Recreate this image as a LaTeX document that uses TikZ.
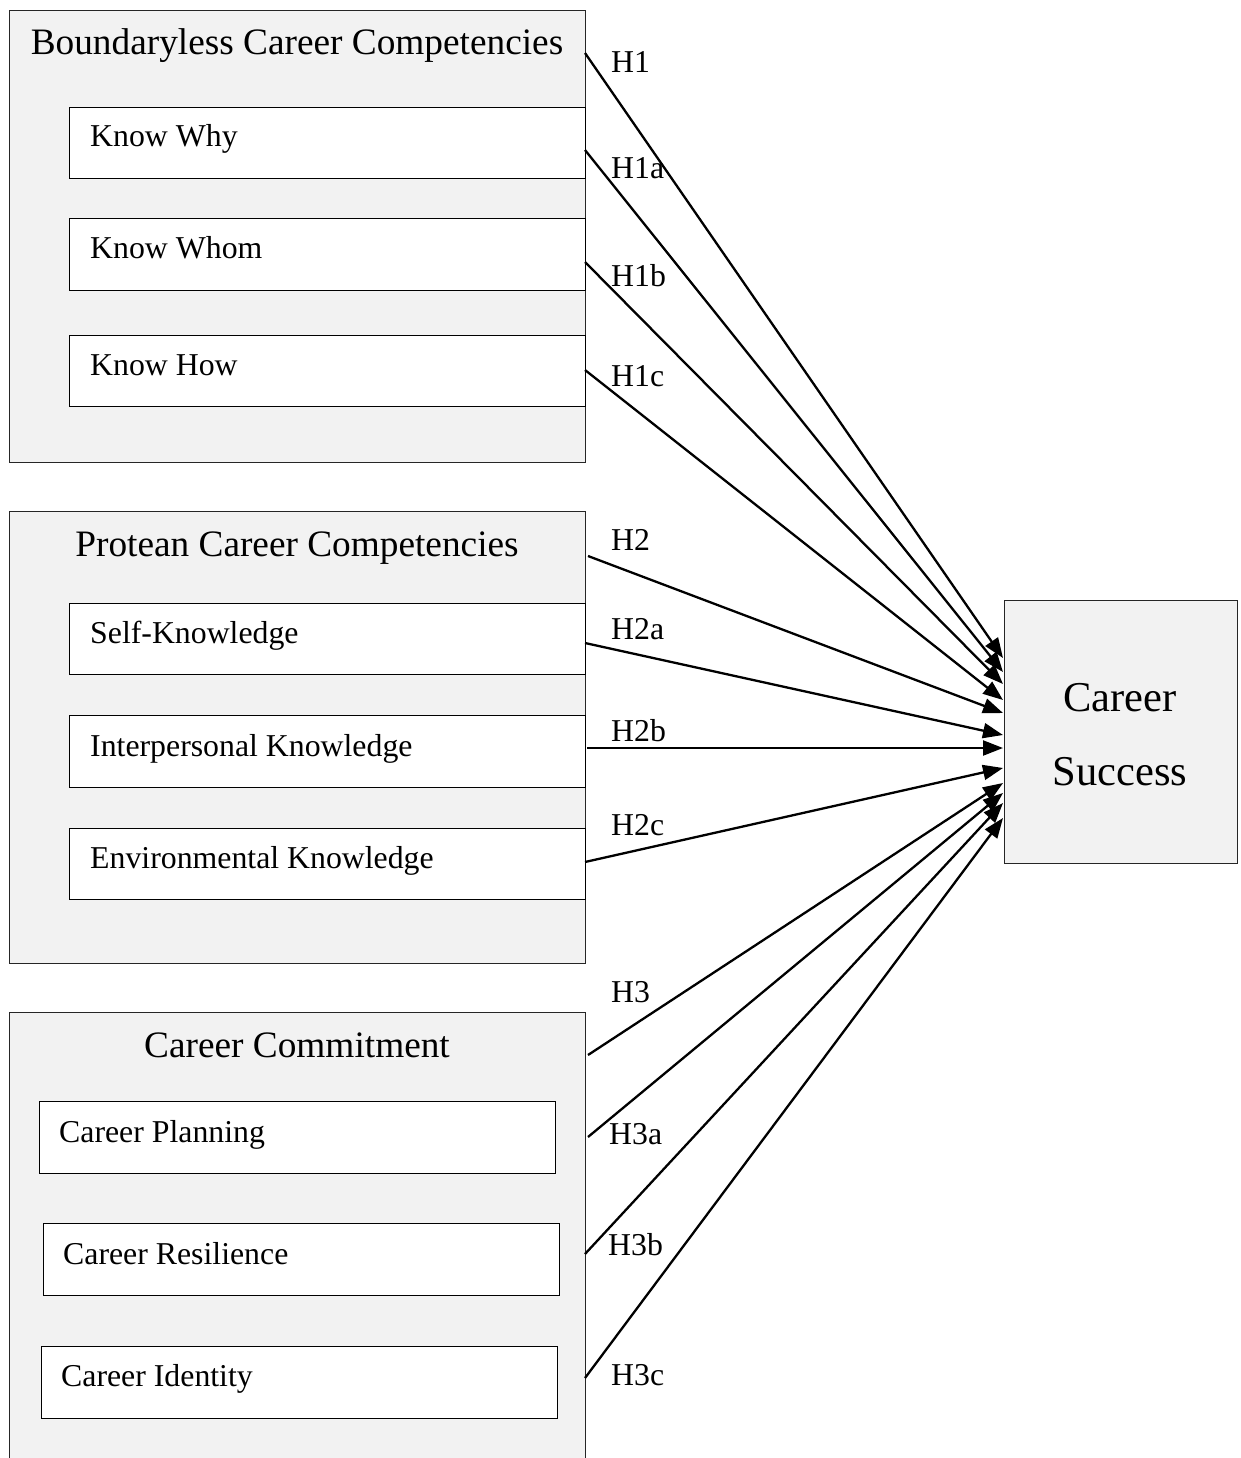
\documentclass[tikz,border=0pt]{standalone}
\usepackage{fontspec}
\setmainfont{Liberation Serif}
\usetikzlibrary{arrows.meta}
\definecolor{panel}{HTML}{F2F2F2}
\begin{document}
\begin{tikzpicture}[x=1pt,y=-1pt,
  group/.style={draw=black!85, line width=1.4pt, fill=panel, inner sep=0pt, anchor=north west},
  item/.style={draw=black, line width=1.4pt, fill=white, inner sep=0pt, anchor=north west},
  grouptitle/.style={font=\fontsize{37.3}{40}\selectfont, inner sep=0pt, anchor=base},
  itemtext/.style={font=\fontsize{31.8}{34}\selectfont, inner sep=0pt, anchor=base west},
  hyp/.style={font=\fontsize{31.8}{34}\selectfont, inner sep=0pt, anchor=west},
  conn/.style={line width=2.3pt, -{Triangle[length=20pt,width=15pt]}}
]
\useasboundingbox (0,0) rectangle (1241,1458);

% Group 1
\node[group, minimum width=576pt, minimum height=452pt] (g1) at (9,10) {};
\node[grouptitle] (g1t) at (297,55) {Boundaryless Career Competencies};
\node[item, minimum width=516pt, minimum height=71pt] (b1) at (69,107) {};
\node[itemtext] (b1t) at (90,147) {Know Why};
\node[item, minimum width=516pt, minimum height=72pt] (b2) at (69,218) {};
\node[itemtext] (b2t) at (90,258) {Know Whom};
\node[item, minimum width=516pt, minimum height=71pt] (b3) at (69,335) {};
\node[itemtext] (b3t) at (90,375) {Know How};

% Group 2
\node[group, minimum width=576pt, minimum height=452pt] (g2) at (9,511) {};
\node[grouptitle] (g2t) at (297,556) {Protean Career Competencies};
\node[item, minimum width=516pt, minimum height=71pt] (p1) at (69,603) {};
\node[itemtext] (p1t) at (90,643) {Self-Knowledge};
\node[item, minimum width=516pt, minimum height=72pt] (p2) at (69,715) {};
\node[itemtext] (p2t) at (90,756) {Interpersonal Knowledge};
\node[item, minimum width=516pt, minimum height=71pt] (p3) at (69,828) {};
\node[itemtext] (p3t) at (90,868) {Environmental Knowledge};

% Group 3
\node[group, minimum width=576pt, minimum height=480pt] (g3) at (9,1012) {};
\node[grouptitle] (g3t) at (297,1057) {Career Commitment};
\node[item, minimum width=516pt, minimum height=72pt] (c1) at (39,1101) {};
\node[itemtext] (c1t) at (59,1142) {Career Planning};
\node[item, minimum width=516pt, minimum height=72pt] (c2) at (43,1223) {};
\node[itemtext] (c2t) at (63,1264) {Career Resilience};
\node[item, minimum width=516pt, minimum height=72pt] (c3) at (41,1346) {};
\node[itemtext] (c3t) at (61,1386) {Career Identity};

% Outcome
\node[group, minimum width=233pt, minimum height=263pt] (cs) at (1004,600) {};
\node[font=\fontsize{42.5}{45}\selectfont, inner sep=0pt, anchor=base] (cs1) at (1120,711) {Career};
\node[font=\fontsize{42.5}{45}\selectfont, inner sep=0pt, anchor=base] (cs2) at (1120,785) {Success};

% Connector ends
\coordinate (s1) at (585,53);   \coordinate (e1) at (1003,658);
\coordinate (s2) at (585,150);  \coordinate (e2) at (1003,672);
\coordinate (s3) at (585,262);  \coordinate (e3) at (1003,684);
\coordinate (s4) at (585,370);  \coordinate (e4) at (1003,700);
\coordinate (s5) at (588,556);  \coordinate (e5) at (1003,713);
\coordinate (s6) at (585,643);  \coordinate (e6) at (1003,735);
\coordinate (s7) at (587,748);  \coordinate (e7) at (1003,748);
\coordinate (s8) at (585,862);  \coordinate (e8) at (1003,768);
\coordinate (s9) at (588,1055); \coordinate (e9) at (1003,783);
\coordinate (s10) at (588,1137); \coordinate (e10) at (1003,793);
\coordinate (s11) at (585,1254); \coordinate (e11) at (1003,803);
\coordinate (s12) at (585,1378); \coordinate (e12) at (1003,818);

\foreach \i in {1,...,12} { \draw[conn] (s\i) -- (e\i); }

% Hypothesis labels
\node[hyp] (h1) at (611,62) {H1};
\node[hyp] (h1a) at (611,168) {H1a};
\node[hyp] (h1b) at (611,276) {H1b};
\node[hyp] (h1c) at (611,376) {H1c};
\node[hyp] (h2) at (611,540) {H2};
\node[hyp] (h2a) at (611,629) {H2a};
\node[hyp] (h2b) at (611,731) {H2b};
\node[hyp] (h2c) at (611,825) {H2c};
\node[hyp] (h3) at (611,992) {H3};
\node[hyp] (h3a) at (609,1134) {H3a};
\node[hyp] (h3b) at (608,1245) {H3b};
\node[hyp] (h3c) at (611,1375) {H3c};
\end{tikzpicture}
\end{document}
